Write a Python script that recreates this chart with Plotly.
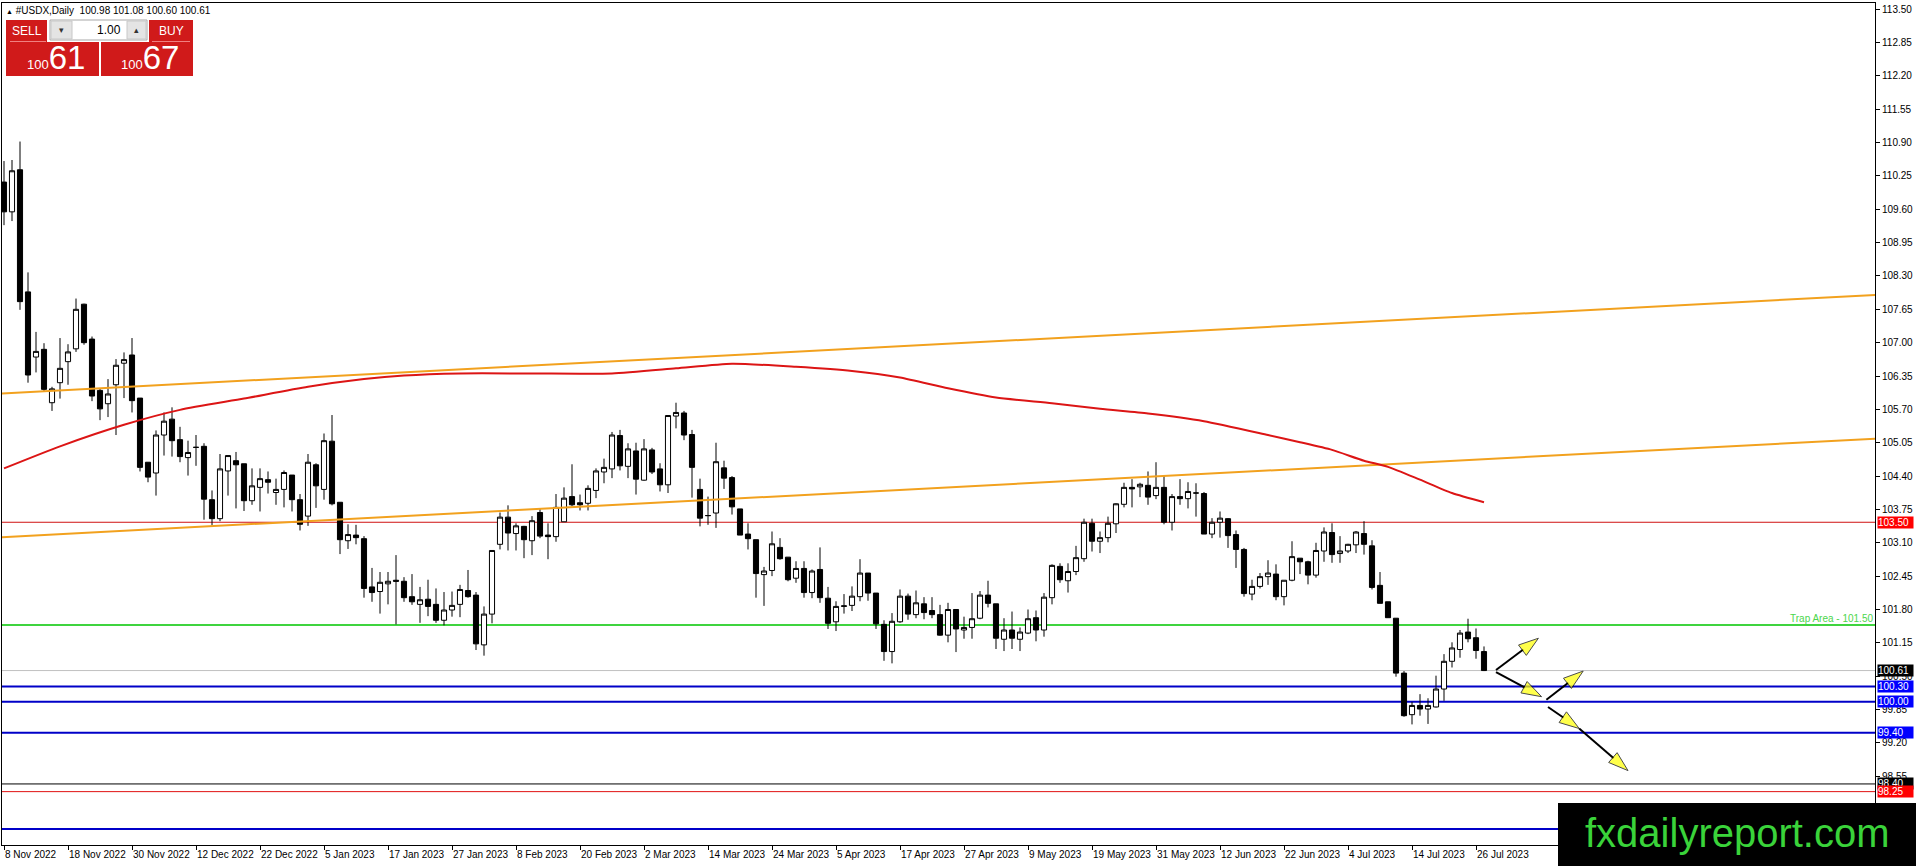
import plotly.graph_objects as go

# ---- data (#USDX daily, 8 Nov 2022 .. 27 Jul 2023) ----
opens = [110.13, 109.55, 110.37, 107.99, 106.72, 106.87, 105.83, 106.22, 106.63, 106.88,
         107.75, 107.07, 106.07, 105.81, 106.18, 106.60, 106.76, 105.92, 104.67, 104.46,
         105.20, 105.51, 105.11, 104.76, 104.96, 104.98, 103.94, 103.57, 104.50, 104.70,
         104.64, 103.92, 104.18, 104.33, 104.08, 104.14, 104.42, 103.94, 103.62, 104.62,
         104.14, 105.08, 103.89, 103.14, 103.25, 103.18, 102.24, 102.15, 102.30, 102.37,
         102.35, 102.05, 101.90, 102.00, 101.90, 101.59, 101.79, 101.90, 102.17, 102.08,
         101.11, 101.71, 103.07, 103.60, 103.28, 103.42, 103.14, 103.69, 103.25, 103.22,
         103.51, 104.00, 103.88, 103.87, 104.12, 104.48, 104.54, 105.19, 104.59, 104.89,
         104.32, 104.91, 104.54, 104.23, 105.57, 105.63, 105.21, 104.14, 103.63, 103.68,
         104.56, 104.37, 103.76, 103.27, 103.16, 102.48, 102.56, 103.01, 102.82, 102.41,
         102.60, 102.13, 102.58, 102.02, 101.56, 101.86, 101.88, 102.05, 102.51, 102.12,
         101.51, 100.98, 101.56, 102.06, 101.70, 101.91, 101.78, 101.70, 101.30, 101.80,
         101.40, 101.45, 101.63, 102.08, 101.91, 101.22, 101.40, 101.22, 101.34, 101.64,
         101.40, 102.03, 102.64, 102.36, 102.54, 102.79, 103.48, 103.13, 103.20, 103.47,
         103.85, 104.18, 104.19, 104.22, 104.02, 104.18, 103.50, 104.00, 103.96, 104.07,
         104.06, 103.27, 103.50, 103.57, 103.26, 102.97, 102.10, 102.25, 102.44, 102.49,
         102.05, 102.37, 102.80, 102.73, 102.47, 102.94, 103.30, 102.89, 102.94, 103.06,
         103.28, 103.04, 102.27, 101.95, 101.63, 100.56, 99.75, 99.93, 99.86, 99.90,
         100.25, 100.79, 101.02, 101.36, 101.25, 100.98]
highs = [110.54, 110.56, 110.92, 108.37, 107.21, 106.99, 106.14, 107.09, 106.97, 107.86,
         107.76, 107.12, 106.10, 106.29, 106.68, 106.81, 107.09, 105.92, 104.67, 105.29,
         105.64, 105.74, 105.36, 105.09, 105.20, 105.04, 104.12, 104.83, 104.80, 104.87,
         104.64, 104.55, 104.55, 104.49, 104.35, 104.51, 104.42, 104.05, 104.83, 104.65,
         105.23, 105.59, 103.89, 103.46, 103.45, 103.23, 102.61, 102.53, 102.53, 102.86,
         102.43, 102.49, 102.24, 102.38, 102.21, 102.14, 102.15, 102.28, 102.57, 102.14,
         101.86, 102.95, 103.69, 103.83, 103.48, 103.43, 103.62, 103.77, 103.48, 104.05,
         104.18, 104.63, 104.04, 104.22, 104.55, 104.74, 105.26, 105.30, 105.04, 105.05,
         105.12, 104.95, 104.65, 105.59, 105.83, 105.67, 105.30, 104.35, 104.00, 105.05,
         104.70, 104.40, 103.76, 103.48, 103.16, 102.63, 103.32, 103.19, 102.82, 102.74,
         102.74, 102.58, 103.01, 102.24, 101.96, 102.10, 102.25, 102.78, 102.51, 102.12,
         101.59, 101.73, 102.19, 102.11, 102.17, 102.04, 102.04, 101.89, 101.93, 101.80,
         101.66, 102.12, 102.16, 102.36, 101.91, 101.63, 101.76, 101.45, 101.80, 101.78,
         102.12, 102.68, 102.70, 102.70, 103.04, 103.57, 103.57, 103.32, 103.61, 103.87,
         104.27, 104.34, 104.27, 104.49, 104.67, 104.41, 104.05, 104.34, 104.28, 104.26,
         104.09, 103.58, 103.71, 103.58, 103.34, 103.00, 102.38, 102.51, 102.76, 102.68,
         102.37, 103.13, 102.80, 102.75, 103.10, 103.40, 103.48, 103.23, 103.08, 103.33,
         103.52, 103.15, 102.53, 101.95, 101.63, 100.60, 100.00, 100.15, 100.07, 100.51,
         100.93, 101.16, 101.40, 101.62, 101.43, 101.08]
lows = [109.29, 109.37, 107.64, 106.22, 106.42, 106.05, 105.67, 105.91, 106.18, 106.82,
        106.96, 105.86, 105.49, 105.55, 105.20, 105.92, 105.64, 104.49, 104.28, 104.02,
        104.80, 104.78, 104.67, 104.41, 104.60, 103.55, 103.44, 103.52, 104.02, 103.77,
        103.72, 103.84, 103.71, 104.06, 103.84, 103.79, 103.71, 103.34, 103.43, 103.78,
        103.94, 103.83, 102.88, 102.98, 103.07, 102.03, 101.95, 101.72, 101.90, 101.51,
        101.95, 101.89, 101.54, 101.67, 101.54, 101.49, 101.66, 101.65, 102.03, 101.01,
        100.90, 101.53, 102.97, 102.95, 102.95, 102.80, 102.86, 103.19, 102.78, 103.12,
        103.51, 103.81, 103.73, 103.73, 103.97, 104.26, 104.36, 104.51, 104.36, 104.04,
        104.31, 104.44, 104.10, 104.07, 105.33, 105.10, 103.98, 103.42, 103.45, 103.39,
        104.15, 103.65, 103.25, 102.97, 102.03, 101.87, 102.45, 102.77, 102.35, 102.32,
        102.03, 102.02, 101.93, 101.42, 101.38, 101.72, 101.77, 101.96, 101.97, 101.42,
        100.80, 100.75, 101.54, 101.60, 101.63, 101.61, 101.63, 101.29, 101.16, 100.97,
        101.23, 101.23, 101.61, 101.84, 101.03, 100.99, 101.03, 100.99, 101.32, 101.18,
        101.27, 101.90, 102.32, 102.13, 102.47, 102.73, 102.93, 102.90, 103.11, 103.29,
        103.79, 103.79, 103.99, 103.84, 103.95, 103.46, 103.34, 103.84, 103.77, 103.61,
        103.27, 103.19, 103.20, 103.00, 102.61, 102.05, 101.98, 102.21, 102.28, 101.98,
        101.88, 102.35, 102.49, 102.29, 102.42, 102.73, 102.71, 102.71, 102.90, 102.90,
        102.87, 102.19, 101.92, 101.64, 100.49, 99.71, 99.56, 99.73, 99.57, 99.89,
        100.02, 100.67, 100.86, 101.16, 100.84, 100.60]
closes = [109.55, 110.35, 107.80, 106.37, 106.83, 106.09, 106.10, 106.50, 106.82, 107.65,
          107.00, 105.96, 105.71, 106.00, 106.56, 106.67, 105.87, 104.57, 104.38, 105.20,
          105.47, 105.09, 104.78, 104.86, 104.96, 103.95, 103.57, 104.54, 104.80, 104.62,
          103.92, 104.21, 104.35, 104.28, 104.14, 104.47, 103.94, 103.46, 104.67, 104.21,
          105.09, 103.86, 103.16, 103.26, 103.20, 102.21, 102.13, 102.33, 102.35, 102.35,
          102.03, 101.95, 101.99, 101.86, 101.59, 101.79, 101.88, 102.19, 102.05, 101.13,
          101.71, 102.95, 103.60, 103.29, 103.43, 103.16, 103.53, 103.23, 103.22, 103.79,
          103.97, 103.84, 103.84, 104.16, 104.50, 104.57, 105.20, 104.60, 104.93, 104.34,
          104.93, 104.48, 104.23, 105.58, 105.64, 105.20, 104.57, 103.58, 103.63, 104.68,
          104.36, 103.80, 103.25, 103.18, 102.50, 102.55, 103.08, 102.79, 102.38, 102.60,
          102.13, 102.55, 102.03, 101.53, 101.86, 101.87, 102.06, 102.51, 102.12, 101.52,
          100.98, 101.57, 102.06, 101.71, 101.93, 101.74, 101.70, 101.30, 101.80, 101.42,
          101.45, 101.62, 102.08, 101.92, 101.24, 101.40, 101.24, 101.36, 101.62, 101.40,
          102.04, 102.66, 102.38, 102.54, 102.81, 103.50, 103.13, 103.20, 103.48, 103.86,
          104.18, 104.15, 104.24, 103.99, 104.18, 103.50, 104.00, 103.96, 104.10, 104.07,
          103.27, 103.50, 103.58, 103.24, 102.97, 102.11, 102.25, 102.44, 102.51, 102.05,
          102.37, 102.83, 102.73, 102.47, 102.95, 103.31, 102.87, 102.94, 103.07, 103.31,
          103.07, 102.23, 101.92, 101.64, 100.56, 99.73, 99.93, 99.86, 99.93, 100.25,
          100.79, 101.05, 101.34, 101.23, 101.00, 100.61]

date_labels = ["8 Nov 2022", "18 Nov 2022", "30 Nov 2022", "12 Dec 2022", "22 Dec 2022",
               "5 Jan 2023", "17 Jan 2023", "27 Jan 2023", "8 Feb 2023", "20 Feb 2023",
               "2 Mar 2023", "14 Mar 2023", "24 Mar 2023", "5 Apr 2023", "17 Apr 2023",
               "27 Apr 2023", "9 May 2023", "19 May 2023", "31 May 2023", "12 Jun 2023",
               "22 Jun 2023", "4 Jul 2023", "14 Jul 2023", "26 Jul 2023"]
label_step = 8  # one date label every 8 bars

price_ticks = [113.50, 112.85, 112.20, 111.55, 110.90, 110.25, 109.60, 108.95, 108.30,
               107.65, 107.00, 106.35, 105.70, 105.05, 104.40, 103.75, 103.10, 102.45,
               101.80, 101.15, 100.50, 99.85, 99.20, 98.55]

# red moving average, sampled along the curve (bar index, value)
ma_idx = [0, 7, 15, 22, 30, 38, 45, 50, 57, 66, 76, 84, 91, 99, 106, 112, 118, 124,
          131, 137, 143, 150, 158, 162, 166, 170, 173, 177, 181, 185]
ma_val = [104.55, 104.98, 105.40, 105.69, 105.91, 106.14, 106.29, 106.36, 106.40, 106.40,
          106.40, 106.50, 106.59, 106.53, 106.45, 106.32, 106.11, 105.93, 105.82, 105.71,
          105.62, 105.47, 105.20, 105.06, 104.91, 104.70, 104.58, 104.33, 104.07, 103.89]

# rising orange channel (start / end of each line)
trend_idx = [-0.25, 233.9]
trend_upper = [106.01, 107.93]
trend_lower = [103.21, 105.13]

# horizontal levels
resistance = 103.50
trap_level = 101.50
bid = 100.61
ask = 100.67
blue_levels = [100.30, 100.00, 99.40, 97.52]
black_level = 98.40
red_low = 98.25

# forecast arrows (bar index, price)
arrow_paths = [
    [(186.5, 100.62), (191.8, 101.24)],
    [(186.5, 100.58), (192.2, 100.10)],
    [(192.8, 100.04), (197.4, 100.60)],
    [(193.0, 99.90), (196.9, 99.48), (203.0, 98.66)],
]

# ---- figure geometry (pixels) ----
W, H = 1916, 866
L, R, T, B = 2, 1875, 3, 845


def px_x(x):
    return (x - L) / (R - L)


def px_y(y):
    return 1 - (y - T) / (B - T)


FONT = "Liberation Sans, Arial, sans-serif"
RED_BTN = "#d01a1a"

fig = go.Figure()

fig.add_trace(go.Candlestick(
    x=list(range(len(opens))), open=opens, high=highs, low=lows, close=closes,
    increasing=dict(line=dict(color="black", width=1), fillcolor="white"),
    decreasing=dict(line=dict(color="black", width=1), fillcolor="black"),
    whiskerwidth=0, hoverinfo="skip", showlegend=False,
))

fig.add_trace(go.Scatter(x=trend_idx, y=trend_upper, mode="lines",
                         line=dict(color="#f2a11e", width=2), hoverinfo="skip", showlegend=False))
fig.add_trace(go.Scatter(x=trend_idx, y=trend_lower, mode="lines",
                         line=dict(color="#f2a11e", width=2), hoverinfo="skip", showlegend=False))
fig.add_trace(go.Scatter(x=ma_idx, y=ma_val, mode="lines",
                         line=dict(color="#dc1515", width=2, shape="spline", smoothing=0.6),
                         hoverinfo="skip", showlegend=False))

for path in arrow_paths:
    xs = [p[0] for p in path]
    ys = [p[1] for p in path]
    fig.add_trace(go.Scatter(
        x=xs, y=ys, mode="lines+markers",
        line=dict(color="black", width=2),
        marker=dict(symbol="arrow", size=[0] + [21] * (len(path) - 1), color="#ffff00",
                    angleref="previous", line=dict(color="black", width=1)),
        hoverinfo="skip", showlegend=False, cliponaxis=False,
    ))

shapes = []


def hline(level, color, width):
    shapes.append(dict(type="line", xref="paper", x0=0, x1=1, yref="y", y0=level, y1=level,
                       line=dict(color=color, width=width), layer="below"))


hline(resistance, "#d01010", 1)
hline(trap_level, "#3fd43f", 2)
hline(bid, "#c0c0c0", 1)
for lv in blue_levels:
    hline(lv, "#0000c8", 2)
hline(black_level, "black", 1)
hline(red_low, "#e01010", 1)


def rect(x0, y0, x1, y1, fill, line_color=None, width=0):
    shapes.append(dict(type="rect", xref="paper", yref="paper",
                       x0=px_x(x0), x1=px_x(x1), y0=px_y(y1), y1=px_y(y0),
                       fillcolor=fill, line=dict(color=line_color or fill, width=width),
                       layer="above"))


# one-click trading panel
rect(6, 20, 47, 42, RED_BTN)
rect(6, 42, 99, 76, RED_BTN)
rect(149, 20, 193, 42, RED_BTN)
rect(101, 42, 193, 76, RED_BTN)
rect(50, 20, 147, 40, "white", "#a8a8a8", 1)
rect(51, 21, 72, 39, "#e4e4e4", "#c8c8c8", 1)
rect(127, 21, 146, 39, "#e4e4e4", "#c8c8c8", 1)
shapes.append(dict(type="line", xref="paper", yref="paper", x0=px_x(10), x1=px_x(46),
                   y0=px_y(41.5), y1=px_y(41.5), line=dict(color="#f08080", width=1), layer="above"))
shapes.append(dict(type="line", xref="paper", yref="paper", x0=px_x(152), x1=px_x(190),
                   y0=px_y(41.5), y1=px_y(41.5), line=dict(color="#f08080", width=1), layer="above"))

# watermark box
rect(1558, 803, 1916, 866, "black")

ann = []


def text(x, y, s, size, color="black", xanchor="left", yanchor="middle"):
    ann.append(dict(xref="paper", yref="paper", x=px_x(x), y=px_y(y), text=s,
                    showarrow=False, xanchor=xanchor, yanchor=yanchor,
                    font=dict(family=FONT, size=size, color=color)))


header = "<span style='font-size:7px'>\u25b2</span>\u00a0#USDX,Daily\u00a0\u00a0" + \
    " ".join(f"{v:.2f}" for v in (opens[-1], highs[-1], lows[-1], closes[-1]))
text(4, 10, header, 10)
text(26.5, 31, "SELL", 12, "white", "center")
text(171, 31, "BUY", 12, "white", "center")
text(123, 30, "1.00", 12, "black", "right")
text(61.5, 30, "\u25be", 9, "#333333", "center")
text(136.5, 30, "\u25b4", 9, "#333333", "center")


def price_text(p):
    s = f"{p:.2f}"
    big, small = s.split(".")
    return f"<span style='font-size:13px'>{big}</span><span style='font-size:33px'>{small}</span>"


text(56, 58, price_text(bid), 33, "white", "center")
text(150, 58, price_text(ask), 33, "white", "center")
text(1737, 833, "fxdailyreport.com", 40, "#3ad33a", "center")

# "Trap Area" caption on the green line
ann.append(dict(xref="paper", yref="y", x=1, y=trap_level, text=f"Trap Area - {trap_level:.2f}",
                showarrow=False, xanchor="right", yanchor="bottom", yshift=-1,
                font=dict(family=FONT, size=10, color="#4cd64c")))

# price labels on the axis
axis_labels = [(resistance, "#ff0000"), (bid, "black"), (blue_levels[0], "#0000ff"),
               (blue_levels[1], "#0000ff"), (blue_levels[2], "#0000ff"),
               (black_level, "black"), (red_low, "#ff0000")]
for lv, bg in axis_labels:
    ann.append(dict(xref="paper", yref="y", x=px_x(1877), y=lv, text=f"{lv:.2f}",
                    showarrow=False, xanchor="left", yanchor="middle", bgcolor=bg,
                    width=35, height=11, align="left", borderpad=0,
                    font=dict(family=FONT, size=10, color="white")))

fig.update_layout(
    width=W, height=H,
    margin=dict(l=L, r=W - R, t=T, b=H - B, pad=0),
    paper_bgcolor="white", plot_bgcolor="white",
    font=dict(family=FONT, size=10, color="black"),
    boxgap=0.2, boxgroupgap=0.2,
    shapes=shapes, annotations=ann,
    showlegend=False, hovermode=False,
)
fig.update_xaxes(
    range=[-0.25, 233.875], showgrid=False, zeroline=False,
    rangeslider=dict(visible=False),
    tickvals=[i * label_step for i in range(len(date_labels))], ticktext=date_labels,
    tickangle=0, ticks="outside", ticklen=4, tickcolor="black",
    ticklabelposition="outside right",
    showline=True, linecolor="black", linewidth=1, mirror=True,
    tickfont=dict(family=FONT, size=10), automargin=False,
)
fig.update_yaxes(
    range=[97.21, 113.62], side="right", showgrid=False, zeroline=False,
    tickvals=price_ticks, tickformat=".2f", ticks="outside", ticklen=4, tickcolor="black",
    showline=True, linecolor="black", linewidth=1, mirror=True,
    tickfont=dict(family=FONT, size=10), automargin=False,
)

fig.write_html("out.html", config={"displayModeBar": False},
               post_script="document.body.style.margin='0';document.body.style.overflow='hidden';")
